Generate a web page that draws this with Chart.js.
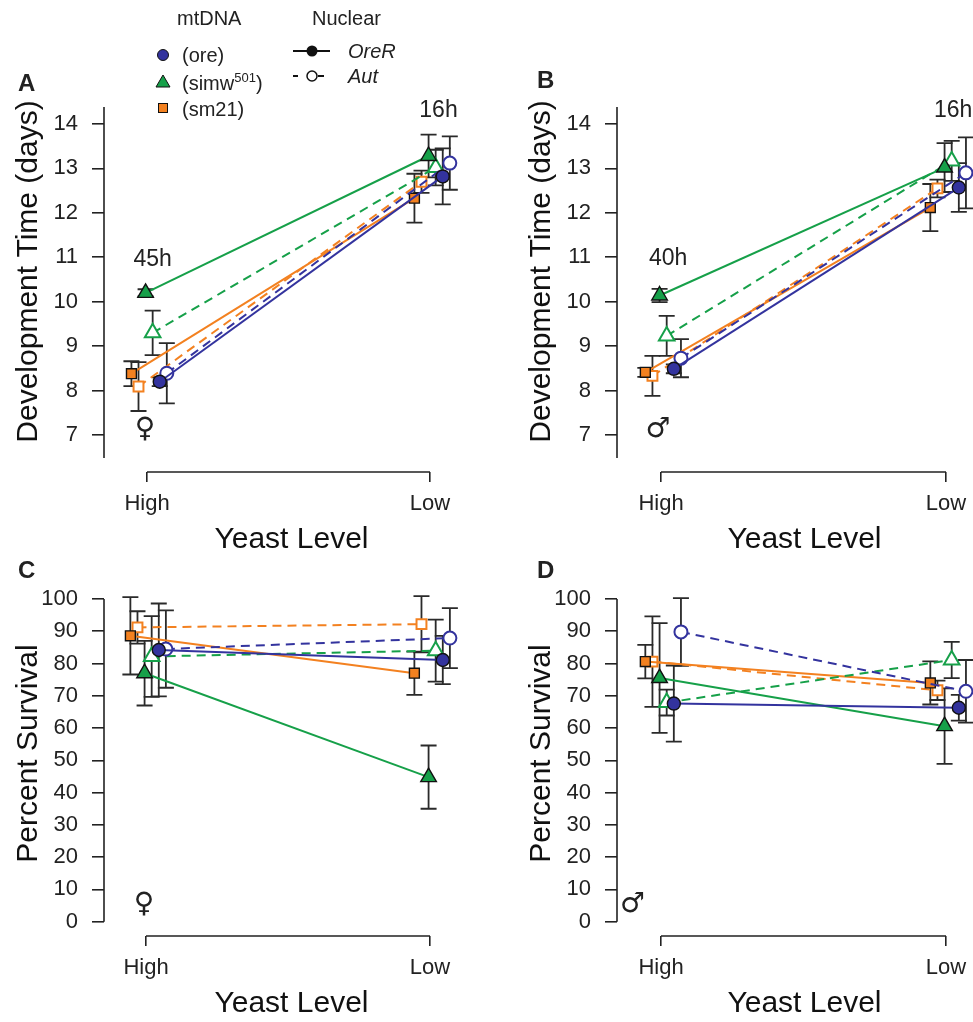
<!DOCTYPE html>
<html>
<head>
<meta charset="utf-8">
<script src="https://cdn.jsdelivr.net/npm/chart.js@4.4.0/dist/chart.umd.min.js"></script>
<style>
body{margin:0;width:973px;height:1022px;overflow:hidden;background:#fff;position:relative;font-family:"Liberation Sans",Arial,sans-serif;color:#222}
canvas{position:absolute}
.t{position:absolute;white-space:nowrap;line-height:1;transform:translateY(-50%)}
.lt{font-size:24px;font-weight:bold}
.lg{font-size:20px}
svg{position:absolute;left:0;top:0}
</style>
</head>
<body>
<canvas id="cA" width="490" height="500" style="left:0;top:60px"></canvas>
<canvas id="cB" width="490" height="500" style="left:513px;top:60px"></canvas>
<canvas id="cC" width="490" height="462" style="left:0;top:560px"></canvas>
<canvas id="cD" width="490" height="462" style="left:513px;top:560px"></canvas>

<div class="t lt" style="left:18px;top:83px">A</div>
<div class="t lt" style="left:537px;top:80px">B</div>
<div class="t lt" style="left:18px;top:570px">C</div>
<div class="t lt" style="left:537px;top:570px">D</div>

<svg width="420" height="120">
  <circle cx="163" cy="55" r="5.5" fill="#33339e" stroke="#111" stroke-width="1"/>
  <polygon points="163,75 170,87 156,87" fill="#16a049" stroke="#111" stroke-width="1"/>
  <rect x="158.5" y="103.5" width="9" height="9" fill="#f38120" stroke="#111" stroke-width="1"/>
  <line x1="293" y1="51" x2="330" y2="51" stroke="#111" stroke-width="2"/>
  <circle cx="312" cy="51" r="5.5" fill="#111"/>
  <line x1="293" y1="76" x2="298" y2="76" stroke="#111" stroke-width="2"/>
  <line x1="318" y1="76" x2="324" y2="76" stroke="#111" stroke-width="2"/>
  <circle cx="312" cy="76" r="5" fill="#fff" stroke="#111" stroke-width="1.5"/>
</svg>
<div class="t lg" style="left:177px;top:18px">mtDNA</div>
<div class="t lg" style="left:312px;top:18px">Nuclear</div>
<div class="t lg" style="left:182px;top:55px">(ore)</div>
<div class="t lg" style="left:182px;top:82px">(simw<sup style="font-size:13px;vertical-align:8px">501</sup>)</div>
<div class="t lg" style="left:182px;top:109px">(sm21)</div>
<div class="t lg" style="left:348px;top:51px;font-style:italic">OreR</div>
<div class="t lg" style="left:348px;top:76px;font-style:italic">Aut</div>

<script>
// categories and series
var xLabels = ['High', 'Low'];
var seriesLabels = ['(ore) OreR', '(ore) Aut', '(simw501) OreR', '(simw501) Aut', '(sm21) OreR', '(sm21) Aut'];
var devTicks = [7, 8, 9, 10, 11, 12, 13, 14];
var survTicks = [0, 10, 20, 30, 40, 50, 60, 70, 80, 90, 100];

// development time (days), females - panel A
var devFemaleHigh    = [8.20, 8.39, 10.20, 9.30, 8.38, 8.09];
var devFemaleHighErr = [0.10, 0.68, 0.08, 0.50, 0.28, 0.55];
var devFemaleLow     = [12.82, 13.12, 13.28, 13.02, 12.33, 12.70];
var devFemaleLowErr  = [0.63, 0.60, 0.48, 0.40, 0.55, 0.25];

// development time (days), males - panel B
var devMaleHigh    = [8.49, 8.73, 10.14, 9.23, 8.41, 8.33];
var devMaleHighErr = [0.10, 0.43, 0.15, 0.45, 0.10, 0.45];
var devMaleLow     = [12.57, 12.90, 13.02, 13.17, 12.12, 12.55];
var devMaleLowErr  = [0.55, 0.80, 0.55, 0.45, 0.53, 0.20];

// percent survival, females - panel C
var survFemaleHigh    = [84.2, 84.5, 77.0, 82.2, 88.6, 91.2];
var survFemaleHighErr = [14.4, 12.0, 10.0, 12.5, 12.0, 5.0];
var survFemaleLow     = [81.1, 87.9, 44.8, 84.0, 77.0, 92.2];
var survFemaleLowErr  = [7.5, 9.3, 9.8, 9.6, 6.7, 8.7];

// percent survival, males - panel D
var survMaleHigh    = [67.6, 89.8, 75.5, 67.9, 80.6, 80.6];
var survMaleHighErr = [11.8, 10.5, 17.0, 4.0, 5.2, 14.0];
var survMaleLow     = [66.3, 71.4, 60.6, 81.1, 74.0, 71.7];
var survMaleLowErr  = [4.0, 9.7, 11.7, 5.6, 6.7, 3.0];

// look
var BLUE = '#33339e', GREEN = '#16a049', ORANGE = '#f38120';
var seriesColors = [BLUE, BLUE, GREEN, GREEN, ORANGE, ORANGE];
var seriesShapes = ['circle', 'circle', 'triangle', 'triangle', 'rect', 'rect'];
var seriesOpen = [false, true, false, true, false, true];
var xOffsets = [0.045, 0.07, -0.005, 0.02, -0.055, -0.03];
var shapeRadius = {circle: 6.5, triangle: 9, rect: 7};
var FONT = '"Liberation Sans", Arial, sans-serif';

var errorBars = {
  id: 'errorBars',
  beforeDatasetsDraw: function(chart) {
    var ctx = chart.ctx, x = chart.scales.x, y = chart.scales.y;
    ctx.save();
    ctx.strokeStyle = '#2a2a2a';
    ctx.lineWidth = 1.8;
    chart.data.datasets.forEach(function(ds) {
      ds.data.forEach(function(p, j) {
        var px = x.getPixelForValue(p.x);
        var top = y.getPixelForValue(p.y + ds.errs[j]);
        var bot = y.getPixelForValue(p.y - ds.errs[j]);
        ctx.beginPath();
        ctx.moveTo(px, top); ctx.lineTo(px, bot);
        ctx.moveTo(px - 8, top); ctx.lineTo(px + 8, top);
        ctx.moveTo(px - 8, bot); ctx.lineTo(px + 8, bot);
        ctx.stroke();
      });
    });
    ctx.restore();
  }
};

var axisLines = {
  id: 'axisLines',
  beforeDatasetsDraw: function(chart, args, opts) {
    var ctx = chart.ctx, x = chart.scales.x, y = chart.scales.y, a = chart.chartArea;
    ctx.save();
    ctx.strokeStyle = '#222';
    ctx.lineWidth = 1.6;
    ctx.beginPath();
    ctx.moveTo(a.left, y.getPixelForValue(opts.yFrom));
    ctx.lineTo(a.left, y.getPixelForValue(opts.yTo));
    ctx.moveTo(x.getPixelForValue(0), a.bottom);
    ctx.lineTo(x.getPixelForValue(1), a.bottom);
    ctx.stroke();
    ctx.restore();
  }
};

var notes = {
  id: 'notes',
  afterDraw: function(chart, args, opts) {
    var ctx = chart.ctx, x = chart.scales.x, y = chart.scales.y;
    ctx.save();
    ctx.fillStyle = '#222';
    ctx.textAlign = 'center';
    ctx.textBaseline = 'middle';
    opts.items.forEach(function(n) {
      ctx.font = n.font;
      ctx.fillText(n.text, x.getPixelForValue(n.x), y.getPixelForValue(n.y));
    });
    ctx.restore();
  }
};

function panel(id, c) {
  var datasets = seriesLabels.map(function(lab, i) {
    return {
      label: lab,
      data: [{x: 0 + xOffsets[i], y: c.high[i]}, {x: 1 + xOffsets[i], y: c.low[i]}],
      errs: [c.highErr[i], c.lowErr[i]],
      showLine: true,
      borderColor: seriesColors[i],
      borderWidth: 2,
      borderDash: seriesOpen[i] ? [9, 6] : [],
      pointStyle: seriesShapes[i],
      pointRadius: shapeRadius[seriesShapes[i]],
      pointBackgroundColor: seriesOpen[i] ? '#fff' : seriesColors[i],
      pointBorderColor: seriesOpen[i] ? seriesColors[i] : '#111',
      pointBorderWidth: seriesOpen[i] ? 2 : 1.4,
      clip: false
    };
  });
  var chart = new Chart(document.getElementById(id), {
    type: 'scatter',
    data: {datasets: datasets},
    options: {
      responsive: false,
      animation: false,
      devicePixelRatio: 1,
      layout: {padding: {left: 11, right: 4, top: 0, bottom: 0}},
      plugins: {
        legend: {display: false},
        tooltip: {enabled: false},
        axisLines: {yFrom: c.yLine[0], yTo: c.yLine[1]},
        notes: {items: c.notes}
      },
      scales: {
        x: {
          type: 'linear', min: -0.15, max: 1.2,
          afterBuildTicks: function(s) { s.ticks = [{value: 0}, {value: 1}]; },
          afterFit: function(s) { s.height = c.xHeight; s.paddingLeft = 0; s.paddingRight = 0; },
          ticks: {
            callback: function(v, i) { return xLabels[i]; },
            font: {family: FONT, size: 22}, color: '#222', padding: 9, maxRotation: 0
          },
          grid: {display: true, drawOnChartArea: false, drawTicks: true, tickLength: 10, color: '#222', lineWidth: 1.6},
          border: {display: false},
          title: {display: true, text: 'Yeast Level', font: {family: FONT, size: 30}, color: '#111', padding: {top: 0, bottom: c.xTitlePad}}
        },
        y: {
          type: 'linear', min: c.yCal[0] - 1, max: c.yCal[1] + 1,
          afterBuildTicks: function(s) { s.ticks = c.ticks.map(function(v) { return {value: v}; }); },
          afterFit: function(s) { s.width = 93; s.paddingTop = 0; s.paddingBottom = 0; },
          ticks: {font: {family: FONT, size: 22}, color: '#222', padding: 14},
          grid: {display: true, drawOnChartArea: false, drawTicks: true, tickLength: 12, color: '#222', lineWidth: 1.6},
          border: {display: false},
          title: {display: true, text: c.yTitle, font: {family: FONT, size: 30}, color: '#111', padding: {top: 0, bottom: 0}}
        }
      }
    },
    plugins: [errorBars, axisLines, notes]
  });
  // fit the scale ranges so the axes land where the figure has them
  var a = chart.chartArea;
  var ky = (c.yPix[0] - c.yPix[1]) / (c.yCal[1] - c.yCal[0]);
  chart.options.scales.y.min = c.yCal[0] - (a.bottom - c.yPix[0]) / ky;
  chart.options.scales.y.max = c.yCal[0] + (c.yPix[0] - a.top) / ky;
  var kx = c.xPix[1] - c.xPix[0];
  chart.options.scales.x.min = -(c.xPix[0] - a.left) / kx;
  chart.options.scales.x.max = (a.right - c.xPix[0]) / kx;
  chart.update();
  return chart;
}

var sym = '28px "DejaVu Sans"';
var lab = '23px ' + FONT;

panel('cA', {
  high: devFemaleHigh, highErr: devFemaleHighErr, low: devFemaleLow, lowErr: devFemaleLowErr,
  yCal: [7, 14], yPix: [375, 64], xPix: [147, 430], ticks: devTicks, yLine: [6.48, 14.38],
  xHeight: 88, xTitlePad: 2, yTitle: 'Development Time (days)',
  notes: [{text: '45h', x: 0.02, y: 10.94, font: lab}, {text: '16h', x: 1.03, y: 14.31, font: lab},
          {text: '\u2640', x: -0.007, y: 7.11, font: sym}]
});
panel('cB', {
  high: devMaleHigh, highErr: devMaleHighErr, low: devMaleLow, lowErr: devMaleLowErr,
  yCal: [7, 14], yPix: [375, 64], xPix: [148, 433], ticks: devTicks, yLine: [6.48, 14.38],
  xHeight: 88, xTitlePad: 2, yTitle: 'Development Time (days)',
  notes: [{text: '40h', x: 0.025, y: 10.98, font: lab}, {text: '16h', x: 1.025, y: 14.31, font: lab},
          {text: '\u2642', x: -0.01, y: 7.11, font: sym}]
});
panel('cC', {
  high: survFemaleHigh, highErr: survFemaleHighErr, low: survFemaleLow, lowErr: survFemaleLowErr,
  yCal: [0, 100], yPix: [361.7, 39], xPix: [146, 430], ticks: survTicks, yLine: [0, 100],
  xHeight: 86, xTitlePad: 0, yTitle: 'Percent Survival',
  notes: [{text: '\u2640', x: -0.007, y: 5.2, font: sym}]
});
panel('cD', {
  high: survMaleHigh, highErr: survMaleHighErr, low: survMaleLow, lowErr: survMaleLowErr,
  yCal: [0, 100], yPix: [361.7, 39], xPix: [148, 433], ticks: survTicks, yLine: [0, 100],
  xHeight: 86, xTitlePad: 0, yTitle: 'Percent Survival',
  notes: [{text: '\u2642', x: -0.10, y: 5.2, font: sym}]
});
</script>
</body>
</html>
